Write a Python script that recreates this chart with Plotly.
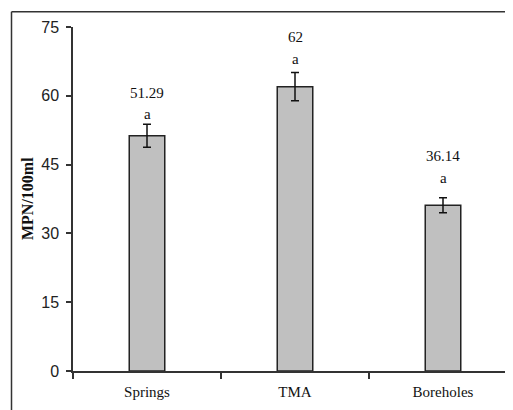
import plotly.graph_objects as go

categories = ["Springs", "TMA", "Boreholes"]
values = [51.29, 62, 36.14]
errors = [2.5, 3.1, 1.65]
value_labels = ["51.29", "62", "36.14"]
letters = ["a", "a", "a"]
number_y = [60.6, 72.8, 46.9]
letter_y = [56.0, 68.0, 42.1]

# page body has an 8px margin, so the figure is offset by 8px
OFF = 8
W, H = 513 - OFF, 410 - OFF
L, R, T, B = 73 - OFF, 0, 27 - OFF, 39
pw = W - L - R
ph = H - T - B

fig = go.Figure()
fig.add_trace(go.Bar(
    x=categories, y=values, width=0.24,
    marker=dict(color="#C0C0C0", line=dict(color="#222222", width=1.5)),
    error_y=dict(type="data", array=errors, visible=True, color="#111111",
                 thickness=1.5, width=4),
    hoverinfo="skip",
))

annotations = []
for c, nl, ny, lt, ly in zip(categories, value_labels, number_y, letters, letter_y):
    annotations.append(dict(x=c, y=ny, xref="x", yref="y", text=nl, showarrow=False,
                            font=dict(family="Liberation Serif", size=15, color="#111111")))
    annotations.append(dict(x=c, y=ly, xref="x", yref="y", text=lt, showarrow=False,
                            font=dict(family="Liberation Serif", size=15, color="#111111")))
annotations.append(dict(x=(27 - 73) / pw, y=0.5, xref="paper", yref="paper",
                        xanchor="center", yanchor="middle",
                        text="<b>MPN/100ml</b>", textangle=-90, showarrow=False,
                        font=dict(family="Liberation Serif", size=16, color="#111111")))

bx = (11.5 - 73) / pw
by = (371 - 11.7) / ph
shapes = [
    dict(type="line", xref="paper", yref="paper", x0=bx, x1=1.05, y0=by, y1=by,
         line=dict(color="#333333", width=1.5)),
    dict(type="line", xref="paper", yref="paper", x0=bx, x1=bx, y0=by, y1=-0.3,
         line=dict(color="#333333", width=1.5)),
]

fig.update_layout(
    width=W, height=H,
    margin=dict(l=L, r=R, t=T, b=B, pad=0, autoexpand=False),
    paper_bgcolor="white", plot_bgcolor="white",
    showlegend=False,
    annotations=annotations,
    shapes=shapes,
    xaxis=dict(type="category", range=[-0.5, 2.5 - 4 / 148], tickson="boundaries",
               ticks="outside", ticklen=6, tickcolor="#333333", tickwidth=1.5,
               showline=True, linecolor="#333333", linewidth=1.5, showgrid=False,
               zeroline=False, automargin=False, ticklabelstandoff=6,
               tickfont=dict(family="Liberation Serif", size=15, color="#111111")),
    yaxis=dict(range=[0, 75], dtick=15, tick0=0, ticks="outside", ticklen=5,
               tickcolor="#333333", tickwidth=1.5, showline=True, linecolor="#333333",
               linewidth=1.5, showgrid=False, zeroline=False, automargin=False,
               ticklabelstandoff=4,
               tickfont=dict(family="Liberation Sans", size=16, color="#222222")),
)

fig.write_html("out.html")
